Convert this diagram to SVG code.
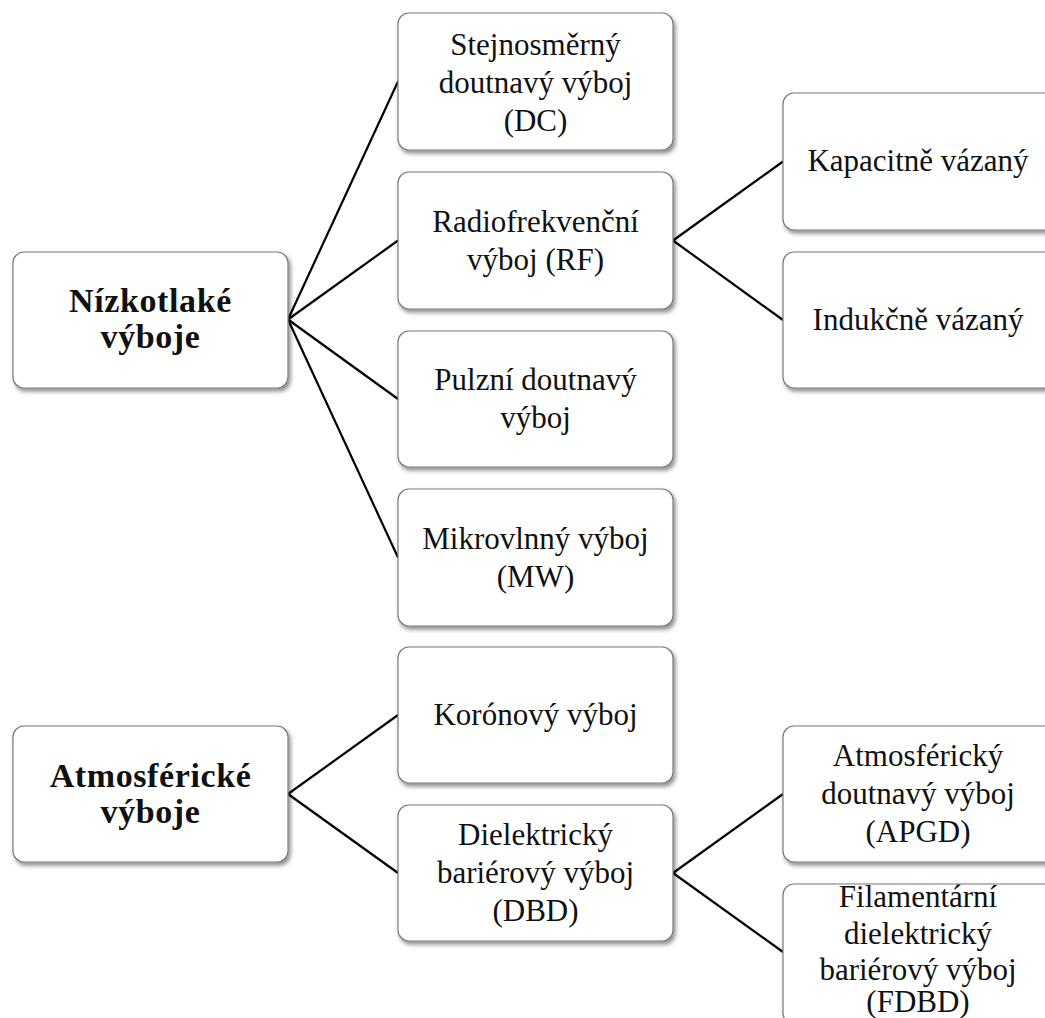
<svg xmlns="http://www.w3.org/2000/svg" width="1045" height="1018" viewBox="0 0 1045 1018">
  <defs>
    <filter id="shadow" x="-10%" y="-10%" width="130%" height="130%">
      <feDropShadow dx="2" dy="3" stdDeviation="2" flood-color="#000" flood-opacity="0.45"/>
    </filter>
  </defs>
  <style>
    .box { fill: #fff; stroke: #7a7a7a; stroke-width: 1.2; filter: url(#shadow); }
    .lbl { font-family: "Liberation Serif", "DejaVu Serif", serif; font-size: 31px; fill: #111; text-anchor: middle; }
    .root { font-family: "Liberation Serif", "DejaVu Serif", serif; font-size: 34px; font-weight: bold; fill: #111; text-anchor: middle; letter-spacing: 0.6px; }
    .edge { stroke: #000; stroke-width: 2.2; fill: none; }
  </style>

  <rect width="1045" height="1018" fill="#fff"/>

  <!-- connectors -->
  <g id="connectors">
    <line class="edge" x1="288" y1="319.5" x2="398" y2="81.5"/>
    <line class="edge" x1="288" y1="319.5" x2="398" y2="240.5"/>
    <line class="edge" x1="288" y1="319.5" x2="398" y2="399"/>
    <line class="edge" x1="288" y1="319.5" x2="398" y2="557.5"/>
    <line class="edge" x1="673" y1="240.5" x2="783" y2="161.5"/>
    <line class="edge" x1="673" y1="240.5" x2="783" y2="320"/>
    <line class="edge" x1="288" y1="794" x2="398" y2="715"/>
    <line class="edge" x1="288" y1="794" x2="398" y2="873"/>
    <line class="edge" x1="673" y1="873" x2="783" y2="794"/>
    <line class="edge" x1="673" y1="873" x2="783" y2="952"/>
  </g>

  <!-- low-pressure branch -->
  <g id="n-nizkotlake">
    <rect class="box" x="13" y="252" width="275" height="136" rx="11"/>
    <text class="root" x="150.5" y="312">Nízkotlaké</text>
    <text class="root" x="150.5" y="348">výboje</text>
  </g>
  <g id="n-dc">
    <rect class="box" x="398" y="13" width="275" height="137" rx="11"/>
    <text class="lbl" x="535.5" y="55">Stejnosměrný</text>
    <text class="lbl" x="535.5" y="93">doutnavý výboj</text>
    <text class="lbl" x="535.5" y="131">(DC)</text>
  </g>
  <g id="n-rf">
    <rect class="box" x="398" y="172" width="275" height="137" rx="11"/>
    <text class="lbl" x="535.5" y="232">Radiofrekvenční</text>
    <text class="lbl" x="535.5" y="270">výboj (RF)</text>
  </g>
  <g id="n-pulzni">
    <rect class="box" x="398" y="331" width="275" height="136" rx="11"/>
    <text class="lbl" x="535.5" y="390">Pulzní doutnavý</text>
    <text class="lbl" x="535.5" y="428">výboj</text>
  </g>
  <g id="n-mw">
    <rect class="box" x="398" y="489" width="275" height="137" rx="11"/>
    <text class="lbl" x="535.5" y="549">Mikrovlnný výboj</text>
    <text class="lbl" x="535.5" y="587">(MW)</text>
  </g>
  <g id="n-kapacitne">
    <rect class="box" x="783" y="93" width="275" height="137" rx="11"/>
    <text class="lbl" x="918" y="171">Kapacitně vázaný</text>
  </g>
  <g id="n-indukcne">
    <rect class="box" x="783" y="252" width="275" height="136" rx="11"/>
    <text class="lbl" x="918" y="330">Indukčně vázaný</text>
  </g>

  <!-- atmospheric branch -->
  <g id="n-atmosfericke">
    <rect class="box" x="13" y="726" width="275" height="136" rx="11"/>
    <text class="root" x="150.5" y="787">Atmosférické</text>
    <text class="root" x="150.5" y="823">výboje</text>
  </g>
  <g id="n-korona">
    <rect class="box" x="398" y="647" width="275" height="136" rx="11"/>
    <text class="lbl" x="535.5" y="725">Korónový výboj</text>
  </g>
  <g id="n-dbd">
    <rect class="box" x="398" y="805" width="275" height="136" rx="11"/>
    <text class="lbl" x="535.5" y="845">Dielektrický</text>
    <text class="lbl" x="535.5" y="883">bariérový výboj</text>
    <text class="lbl" x="535.5" y="921">(DBD)</text>
  </g>
  <g id="n-apgd">
    <rect class="box" x="783" y="726" width="275" height="136" rx="11"/>
    <text class="lbl" x="918" y="766">Atmosférický</text>
    <text class="lbl" x="918" y="804">doutnavý výboj</text>
    <text class="lbl" x="918" y="842">(APGD)</text>
  </g>
  <g id="n-fdbd">
    <rect class="box" x="783" y="884" width="275" height="140" rx="11"/>
    <text class="lbl" x="918" y="907">Filamentární</text>
    <text class="lbl" x="918" y="944">dielektrický</text>
    <text class="lbl" x="918" y="980">bariérový výboj</text>
    <text class="lbl" x="918" y="1012">(FDBD)</text>
  </g>
</svg>
